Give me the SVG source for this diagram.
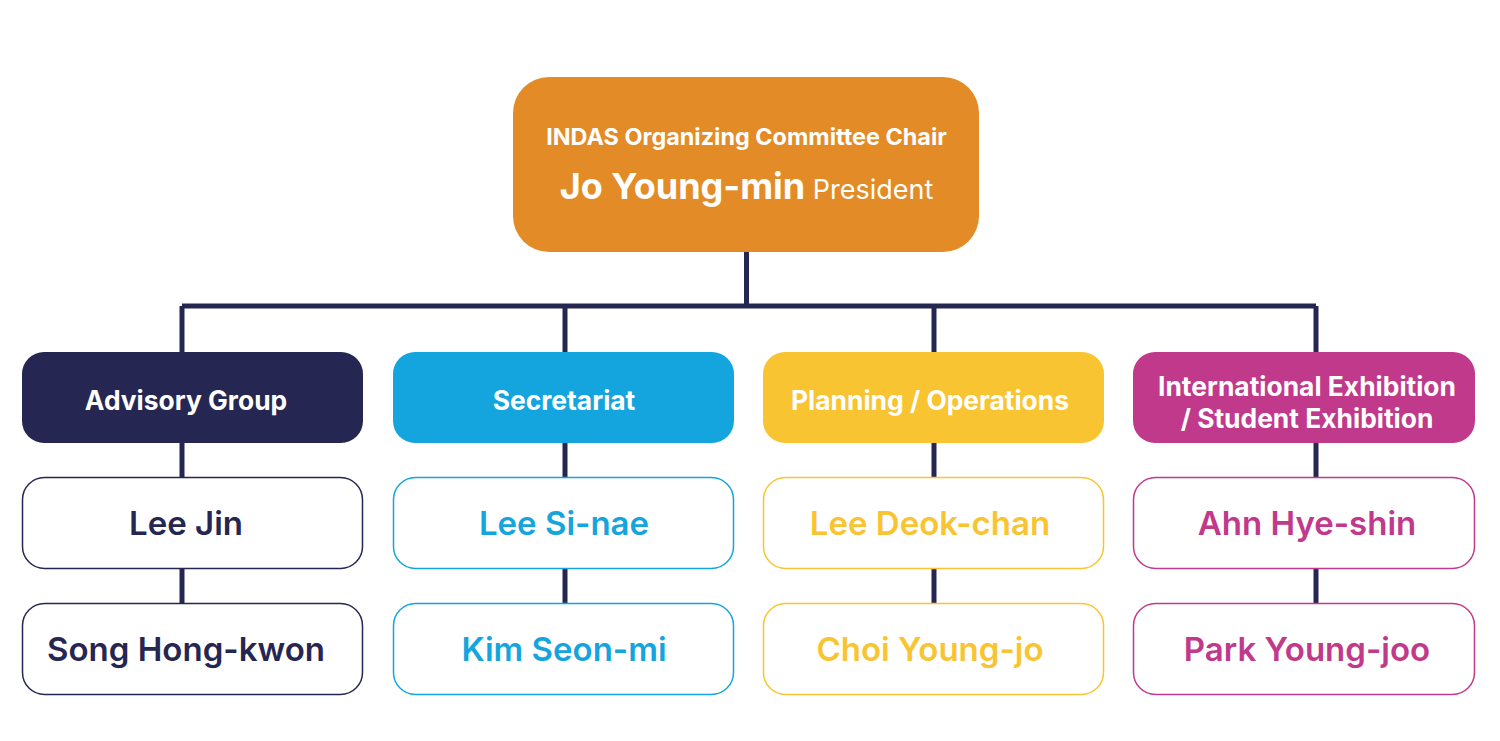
<svg xmlns="http://www.w3.org/2000/svg" width="1500" height="741" viewBox="0 0 1500 741">
<style>
.cat{font-family:Inter,"Noto Sans",sans-serif;font-weight:700;font-size:26.4px;fill:#fff;text-anchor:middle}
.name{font-family:Inter,"Noto Sans",sans-serif;font-weight:600;font-size:33px;text-anchor:middle}
.mem{fill:#fff;stroke-width:1.5}
.conn{stroke:#262652;stroke-width:5;fill:none}
</style>
<rect width="1500" height="741" fill="#fff"/>
<g id="connectors">
<path class="conn" d="M746.5 252V306M182 306H1316M182 306V352M565 306V352M934 306V352M1316 306V352"/>
<path class="conn" d="M182 443V477M182 569V603M565 443V477M565 569V603M934 443V477M934 569V603M1316 443V477M1316 569V603"/>
</g>
<g id="chair">
<rect x="513" y="77" width="466" height="175" rx="36" fill="#E38B26"/>
<text x="746.5" y="145" font-family="Inter,'Noto Sans',sans-serif" font-weight="700" font-size="23.4" fill="#fff" text-anchor="middle">INDAS Organizing Committee Chair</text>
<text x="746.5" y="199" font-family="Inter,'Noto Sans',sans-serif" fill="#fff" text-anchor="middle"><tspan font-weight="700" font-size="36">Jo Young-min</tspan><tspan font-size="27" font-weight="400"> President</tspan></text>
</g>
<g id="advisory">
<rect x="22" y="352" width="341" height="91" rx="22" fill="#262652"/>
<text class="cat" x="186" y="409.5">Advisory Group</text>
</g>
<g id="secretariat">
<rect x="393" y="352" width="341" height="91" rx="22" fill="#14A5DE"/>
<text class="cat" x="564" y="409.5">Secretariat</text>
</g>
<g id="planning">
<rect x="763" y="352" width="341" height="91" rx="22" fill="#F9C431"/>
<text class="cat" x="930" y="409.5">Planning / Operations</text>
</g>
<g id="international">
<rect x="1133" y="352" width="342" height="91" rx="22" fill="#C0398B"/>
<text class="cat" x="1307" y="396">International Exhibition</text>
<text class="cat" x="1307" y="428">/ Student Exhibition</text>
</g>
<g id="lee-jin">
<rect class="mem" x="22.5" y="477.5" width="340" height="91" rx="22" stroke="#262652"/>
<text class="name" x="186" y="535" fill="#262652">Lee Jin</text>
</g>
<g id="song-hong-kwon">
<rect class="mem" x="22.5" y="603.5" width="340" height="91" rx="22" stroke="#262652"/>
<text class="name" x="186" y="661" fill="#262652">Song Hong-kwon</text>
</g>
<g id="lee-si-nae">
<rect class="mem" x="393.5" y="477.5" width="340" height="91" rx="22" stroke="#14A5DE"/>
<text class="name" x="564" y="535" fill="#14A5DE">Lee Si-nae</text>
</g>
<g id="kim-seon-mi">
<rect class="mem" x="393.5" y="603.5" width="340" height="91" rx="22" stroke="#14A5DE"/>
<text class="name" x="564" y="661" fill="#14A5DE">Kim Seon-mi</text>
</g>
<g id="lee-deok-chan">
<rect class="mem" x="763.5" y="477.5" width="340" height="91" rx="22" stroke="#F9C431"/>
<text class="name" x="930" y="535" fill="#F9C431">Lee Deok-chan</text>
</g>
<g id="choi-young-jo">
<rect class="mem" x="763.5" y="603.5" width="340" height="91" rx="22" stroke="#F9C431"/>
<text class="name" x="930" y="661" fill="#F9C431">Choi Young-jo</text>
</g>
<g id="ahn-hye-shin">
<rect class="mem" x="1133.5" y="477.5" width="341" height="91" rx="22" stroke="#C0398B"/>
<text class="name" x="1307" y="535" fill="#C0398B">Ahn Hye-shin</text>
</g>
<g id="park-young-joo">
<rect class="mem" x="1133.5" y="603.5" width="341" height="91" rx="22" stroke="#C0398B"/>
<text class="name" x="1307" y="661" fill="#C0398B">Park Young-joo</text>
</g>
</svg>
